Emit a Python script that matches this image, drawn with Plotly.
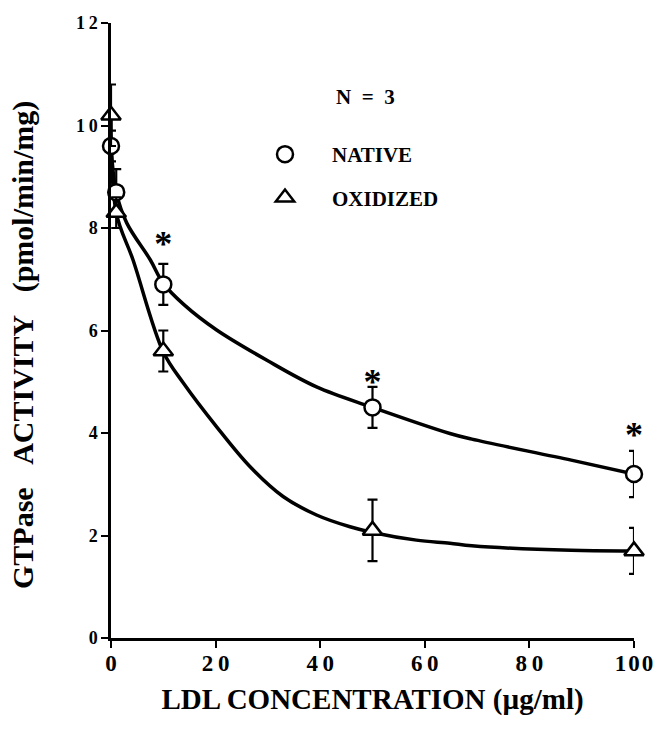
import plotly.graph_objects as go

# Measured points (mean ± SE)
conc = [0, 1, 10, 50, 100]
native = [9.6, 8.7, 6.9, 4.5, 3.2]
native_err = [0.3, 0.45, 0.4, 0.4, 0.45]
oxidized = [10.2, 8.3, 5.6, 2.1, 1.7]
oxidized_err = [0.6, 0.3, 0.4, 0.6, 0.45]

# Fitted curves
native_fit_x = [0, 1, 3, 7.5, 10, 14, 20.2, 29.8, 39.3, 50, 64.8, 69, 88, 100]
native_fit_y = [9.6, 8.7, 8.1, 7.38, 6.92, 6.5, 6.01, 5.42, 4.90, 4.5, 3.99, 3.88, 3.47, 3.2]
oxid_fit_x = [0, 1, 4.2, 10, 13.8, 20.2, 26.6, 32.9, 39.3, 45.7, 50, 58.4, 64.8, 69, 88, 100]
oxid_fit_y = [10.2, 8.3, 7.38, 5.58, 4.98, 4.12, 3.34, 2.76, 2.40, 2.17, 2.06, 1.91, 1.85, 1.8, 1.71, 1.7]

# Significance markers
star_x = [10, 50, 100]
star_y = [7.62, 4.94, 3.9]

xticks = [0, 20, 40, 60, 80, 100]
xticklabels = ["0", "2\u20090", "4\u20090", "6\u20090", "8\u20090", "1\u200a0\u200a0"]
yticks = [0, 2, 4, 6, 8, 10, 12]
yticklabels = ["0", "2", "4", "6", "8", "1\u20090", "1\u20092"]

FONT = "Liberation Serif"
SP = "\u00a0\u00a0\u00a0"

# plot area at x 111..634, y 23..638 of a 654x730 page
L, R, T, B = 111, 20, 23, 92
W, H = 654, 730
PW, PH = W - L - R, H - T - B

fig = go.Figure()

for fx, fy in [(native_fit_x, native_fit_y), (oxid_fit_x, oxid_fit_y)]:
    fig.add_trace(go.Scatter(x=fx, y=fy, mode="lines",
                             line=dict(color="black", width=3.5, shape="spline", smoothing=1.0),
                             showlegend=False, hoverinfo="skip", cliponaxis=False))

fig.add_trace(go.Scatter(x=conc, y=native, mode="markers", name="<b>NATIVE</b>",
                         legendgroup="a",
                         marker=dict(symbol="circle", size=16, color="white",
                                     line=dict(color="black", width=2.5)),
                         error_y=dict(type="data", array=native_err, color="black",
                                      thickness=2.2, width=5),
                         cliponaxis=False))
fig.add_trace(go.Scatter(x=conc, y=oxidized, mode="markers", name="<b>OXIDIZED</b>",
                         legendgroup="b",
                         marker=dict(symbol="triangle-up", size=17, color="white",
                                     line=dict(color="black", width=2.5)),
                         error_y=dict(type="data", array=oxidized_err, color="black",
                                      thickness=2.2, width=5),
                         cliponaxis=False))

fig.add_trace(go.Scatter(x=star_x, y=star_y, mode="text", text=["<b>*</b>"] * len(star_x),
                         textfont=dict(family=FONT, size=36, color="black"),
                         showlegend=False, hoverinfo="skip", cliponaxis=False))

fig.add_annotation(text="<b>N\u00a0\u00a0=\u00a0\u00a03</b>", xref="paper", yref="paper",
                   x=(365 - 111) / PW, y=(638 - 97) / PH, showarrow=False,
                   xanchor="center", yanchor="middle",
                   font=dict(family=FONT, size=21, color="black"))

fig.add_annotation(text="<b>GTPase" + SP + "ACTIVITY" + SP + "(pmol/min/mg)</b>",
                   xref="paper", yref="paper", textangle=-90,
                   x=(23 - 111) / PW, y=(638 - 345) / PH, showarrow=False,
                   xanchor="center", yanchor="middle",
                   font=dict(family=FONT, size=30, color="black"))

fig.update_layout(
    width=W, height=H,
    margin=dict(l=L, r=R, t=T, b=B),
    paper_bgcolor="white", plot_bgcolor="white",
    font=dict(family=FONT, color="black"),
    legend=dict(x=(238 - 111) / PW, y=(638 - 134) / PH, xanchor="left", yanchor="top",
                font=dict(family=FONT, size=21, color="black"),
                itemwidth=84, tracegroupgap=13, bgcolor="rgba(0,0,0,0)",
                borderwidth=0),
    xaxis=dict(range=[0, 100], tickvals=xticks,
               ticktext=["<b>%s</b>" % t for t in xticklabels], automargin=False,
               ticklabeloverflow="allow", ticklabelstandoff=-4,
               showgrid=False, zeroline=False, showline=True, linecolor="black",
               linewidth=2.5, ticks="outside", ticklen=7, tickwidth=2, tickcolor="black",
               tickfont=dict(family=FONT, size=23, color="black"),
               title=dict(text="<b>LDL CONCENTRATION (\u00b5g/ml)</b>",
                          font=dict(family=FONT, size=29, color="black"), standoff=14)),
    yaxis=dict(range=[0, 12], tickvals=yticks,
               ticktext=["<b>%s</b>" % t for t in yticklabels], automargin=False,
               showgrid=False, zeroline=False, showline=True, linecolor="black",
               linewidth=2.5, ticks="outside", ticklen=7, tickwidth=2, tickcolor="black",
               tickfont=dict(family=FONT, size=18, color="black")),
)

fig.write_html(
    "out.html",
    config={"displayModeBar": False},
    post_script=("document.body.style.margin='0';document.body.style.padding='0';"
                 "document.body.style.overflow='hidden';"
                 "document.documentElement.style.overflow='hidden';"),
)
